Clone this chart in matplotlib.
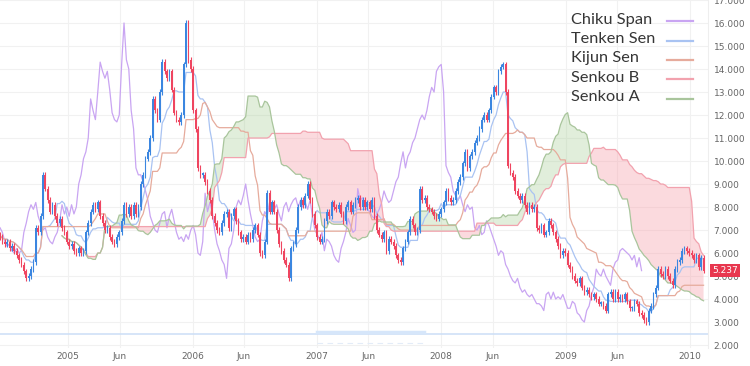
import numpy as np
import pandas as pd
import matplotlib
matplotlib.use('Agg')
import matplotlib.pyplot as plt

# weekly closes (mid June 2004 -> Feb 2010)
closes = [
    6.7, 6.5, 6.4, 6.5, 6.2, 6.3, 6.1, 5.9, 5.7, 5.5,
    5.2, 4.9, 5.0, 5.3, 5.6, 7.1, 6.9, 7.6, 9.4, 8.8,
    8.3, 7.8, 8.1, 7.6, 7.3, 7.5, 7.1, 6.9, 6.5, 6.3,
    6.4, 6.1, 6.0, 6.2, 6.0, 6.1, 6.9, 7.3, 7.8, 8.1,
    7.9, 8.2, 7.6, 7.3, 7.0, 7.1, 6.7, 6.5, 6.4, 6.7,
    6.9, 7.4, 8.1, 7.7, 8.0, 7.6, 8.1, 7.7, 8.0, 9.0,
    9.4, 10.1, 10.4, 11.0, 12.7, 12.2, 11.8, 13.0, 14.3, 13.9,
    13.6, 13.9, 13.1, 12.1, 11.8, 11.7, 12.0, 14.2, 16.0, 14.4,
    14.0, 12.2, 11.4, 9.7, 9.4, 9.4, 9.1, 8.7, 8.3, 7.6,
    7.3, 7.0, 6.9, 7.3, 7.7, 7.8, 7.1, 7.6, 7.9, 7.4,
    6.9, 6.6, 6.7, 6.5, 6.8, 6.6, 7.0, 7.2, 6.8, 6.0,
    5.9, 6.5, 8.6, 7.8, 8.2, 7.8, 7.0, 6.4, 6.1, 5.7,
    5.5, 4.9, 6.2, 6.4, 7.0, 8.0, 8.3, 8.1, 8.5, 9.0,
    8.3, 7.7, 7.2, 6.7, 6.5, 6.6, 7.4, 7.8, 7.6, 8.2,
    8.0, 7.9, 8.1, 7.7, 7.4, 8.0, 8.2, 7.8, 8.1, 8.3,
    8.4, 8.0, 8.3, 8.0, 8.2, 7.9, 8.3, 7.6, 7.0, 6.8,
    6.6, 6.9, 6.1, 6.6, 6.5, 6.3, 5.9, 5.7, 5.6, 6.2,
    6.5, 6.9, 7.5, 7.2, 6.9, 7.0, 8.8, 8.3, 8.4, 8.0,
    7.9, 7.8, 7.6, 7.5, 7.7, 7.9, 8.2, 8.7, 8.4, 8.2,
    8.3, 8.7, 9.1, 9.3, 9.9, 10.4, 9.7, 10.2, 10.4, 10.8,
    11.0, 11.4, 11.8, 12.0, 11.8, 12.2, 12.8, 13.2, 13.0, 13.9,
    14.1, 14.2, 13.0, 9.8, 9.5, 9.3, 8.7, 8.5, 8.3, 8.5,
    8.1, 7.8, 8.1, 7.9, 8.0, 7.1, 7.0, 7.2, 6.8, 6.9,
    7.4, 7.2, 6.9, 6.6, 6.3, 5.9, 6.1, 6.0, 5.5, 5.3,
    5.0, 4.8, 4.7, 4.9, 4.5, 4.3, 4.4, 4.2, 4.1, 4.2,
    4.0, 3.8, 3.8, 3.7, 3.5, 4.2, 4.3, 4.0, 4.3, 4.0,
    4.1, 4.0, 4.2, 3.9, 3.6, 3.6, 3.9, 3.8, 3.4, 3.3,
    3.1, 3.0, 3.5, 3.7, 4.2, 4.5, 5.3, 5.1, 5.0, 5.3,
    5.0, 4.8, 4.6, 5.3, 5.6, 5.7, 6.1, 6.2, 6.1, 6.0,
    5.9, 5.7, 5.9, 5.4, 5.8, 5.237,
]
first_open = 6.8
wick = 0.12   # typical wick length seen on the weekly bars

names = ['Chiku Span', 'Tenken Sen', 'Kijun Sen', 'Senkou B', 'Senkou A']
colors = ['#c9a5f2', '#a9c3f2', '#e6ab9c', '#f2a2ae', '#a9c59c']

up_col = '#3b86e0'
down_col = '#ef4560'

weeks = pd.date_range('2004-06-15', periods=len(closes), freq='7D')
df = pd.DataFrame({'close': closes}, index=weeks)
df['open'] = [first_open] + closes[:-1]
df['high'] = df[['open', 'close']].max(axis=1) + wick
df['low'] = df[['open', 'close']].min(axis=1) - wick

# ichimoku lines from the bars
def mid(n):
    return (df['high'].rolling(n, min_periods=1).max() + df['low'].rolling(n, min_periods=1).min()) / 2

tenken = mid(9)
kijun = mid(26)
senkou_a = ((tenken + kijun) / 2).shift(26)
senkou_b = mid(52).shift(26)
chikou = df['close'].shift(-26)

fig = plt.figure(figsize=(7.5, 3.66), dpi=100)
ax = fig.add_axes([0, 0.049, 0.944, 0.951])

# cloud
ax.fill_between(weeks, senkou_a, senkou_b, where=senkou_a >= senkou_b, interpolate=True,
                color='#a9cf98', alpha=0.35, lw=0)
ax.fill_between(weeks, senkou_a, senkou_b, where=senkou_a < senkou_b, interpolate=True,
                color='#f7a3ad', alpha=0.4, lw=0)

ax.plot(weeks, chikou, color=colors[0], lw=0.9)
ax.plot(weeks, tenken, color=colors[1], lw=0.9)
ax.plot(weeks, kijun, color=colors[2], lw=0.9)
ax.plot(weeks, senkou_b, color=colors[3], lw=0.9)
ax.plot(weeks, senkou_a, color=colors[4], lw=0.9)

# candles
up = df['close'] >= df['open']
cc = np.where(up, up_col, down_col)
ax.vlines(weeks, df['low'], df['high'], colors=cc, lw=0.8, zorder=3)
body = (df['close'] - df['open']).abs().clip(lower=0.06)
ax.bar(weeks, body, bottom=df[['open', 'close']].min(axis=1), width=4.8,
       color=cc, lw=0, zorder=4)

# navigator line at the bottom
ax.axhline(2.5, color='#cfe0f7', lw=1.2, zorder=1)
ax.plot([pd.Timestamp('2007-01-01'), pd.Timestamp('2007-11-10')], [2.58, 2.58],
        color='#d6e6fa', lw=2.5, zorder=1)
ax.plot([pd.Timestamp('2007-01-01'), pd.Timestamp('2007-11-10')], [2.1, 2.1],
        color='#e3ecf8', lw=0.8, ls=(0, (5, 4)), zorder=1)

ax.set_xlim(pd.Timestamp('2004-06-15'), pd.Timestamp('2010-02-22'))
ax.set_ylim(1.87, 17.0)

# ticks
xt = []
xl = []
for y in range(2005, 2011):
    xt.append(pd.Timestamp(f'{y}-01-01'))
    xl.append(str(y))
    if y < 2010:
        xt.append(pd.Timestamp(f'{y}-06-01'))
        xl.append('Jun')
ax.set_xticks(xt)
ax.set_xticklabels(xl)
ax.set_yticks(range(2, 18))
ax.set_yticklabels([f'{v}.000' for v in range(2, 18)])
ax.yaxis.tick_right()
ax.tick_params(axis='both', length=0, labelsize=6.5, colors='#666666')
ax.tick_params(axis='y', pad=4)
ax.tick_params(axis='x', pad=3)
ax.grid(True, color='#f1f1f1', lw=0.8)
ax.set_axisbelow(True)
for s in ['top', 'left', 'bottom']:
    ax.spines[s].set_visible(False)
ax.spines['right'].set_color('#eeeeee')

# last price tag
ax.annotate(f'{closes[-1]:.3f}', xy=(1.0, closes[-1]), xycoords=('axes fraction', 'data'),
            xytext=(3, 0), textcoords='offset points', va='center', ha='left',
            fontsize=6.5, color='white',
            bbox=dict(boxstyle='square,pad=0.25', fc='#e8374f', ec='none'))

# legend: labels left aligned, swatch on the right
for i, (n, c) in enumerate(zip(names, colors)):
    yy = 0.943 - i * 0.0555
    ax.text(0.806, yy, n, transform=ax.transAxes, ha='left', va='center',
            fontsize=11.8, family='Lato', color='#363636', zorder=10)
    ax.plot([0.942, 0.979], [yy - 0.004, yy - 0.004], transform=ax.transAxes,
            color=c, lw=1.6, zorder=10)

fig.savefig('out.png', dpi=100)
